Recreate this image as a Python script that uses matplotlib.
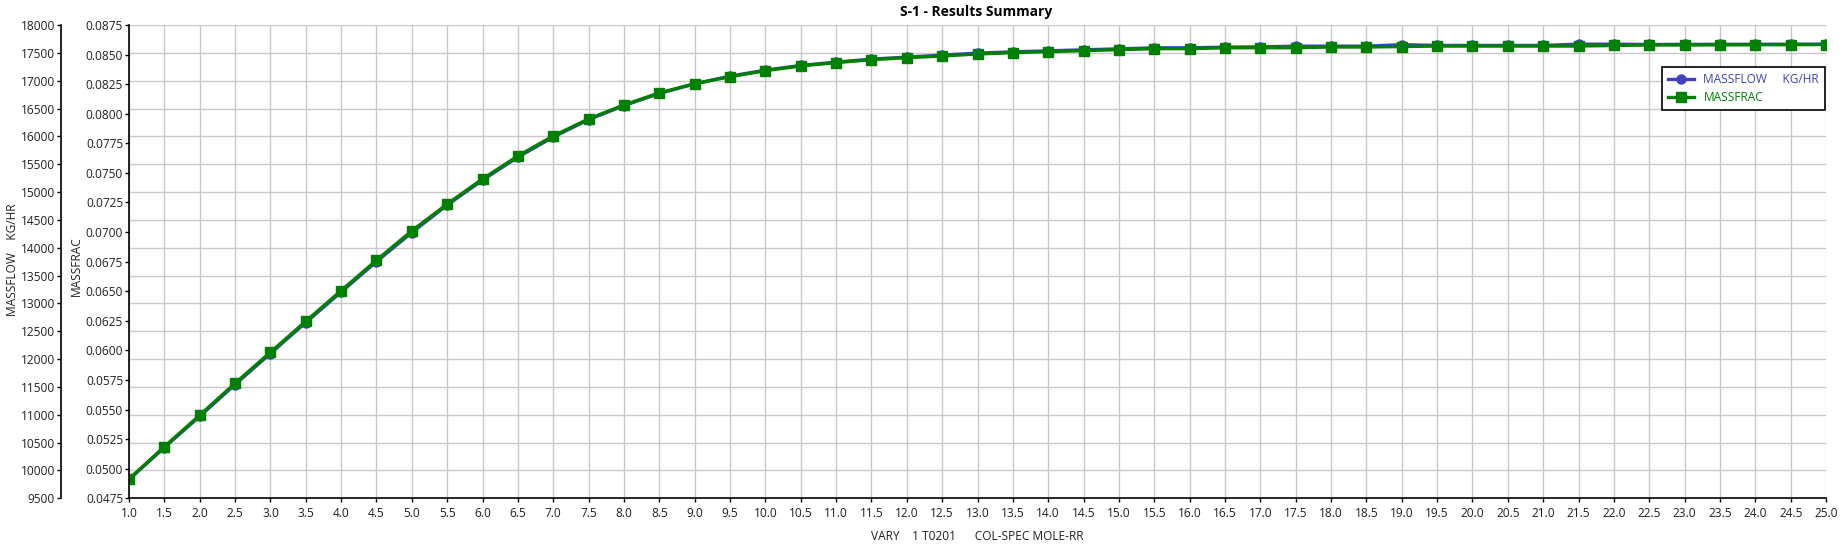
import matplotlib
matplotlib.use("Agg")
import matplotlib.pyplot as plt
import numpy as np

plt.rcParams['font.family'] = ['Open Sans', 'DejaVu Sans']

# data
vary = [1.0, 1.5, 2.0, 2.5, 3.0, 3.5, 4.0, 4.5, 5.0, 5.5, 6.0, 6.5, 7.0, 7.5,
        8.0, 8.5, 9.0, 9.5, 10.0, 10.5, 11.0, 11.5, 12.0, 12.5, 13.0, 13.5,
        14.0, 14.5, 15.0, 15.5, 16.0, 16.5, 17.0, 17.5, 18.0, 18.5, 19.0,
        19.5, 20.0, 20.5, 21.0, 21.5, 22.0, 22.5, 23.0, 23.5, 24.0, 24.5, 25.0]
massflow = [9838, 10412, 10972, 11543, 12100, 12656, 13204, 13751, 14272,
            14766, 15214, 15627, 15987, 16301, 16552, 16771, 16943, 17082,
            17189, 17274, 17333, 17387, 17423, 17459, 17495, 17518, 17536,
            17554, 17572, 17590, 17590, 17602, 17608, 17620, 17620, 17620,
            17647, 17633, 17633, 17633, 17633, 17656, 17656, 17650, 17652,
            17653, 17654, 17655, 17656]
massfrac = [0.04913, 0.05186, 0.05452, 0.05722, 0.05984, 0.06246, 0.06505,
            0.06762, 0.07010, 0.07237, 0.07449, 0.07643, 0.07812, 0.07956,
            0.08074, 0.08176, 0.08254, 0.08313, 0.08364, 0.08404, 0.08432,
            0.08457, 0.08474, 0.08488, 0.08505, 0.08516, 0.08525, 0.08533,
            0.08542, 0.08550, 0.08550, 0.08558, 0.08558, 0.08558, 0.08564,
            0.08564, 0.08568, 0.08572, 0.08572, 0.08572, 0.08572, 0.08572,
            0.08577, 0.08581, 0.08581, 0.08582, 0.08583, 0.08584, 0.08585]

flow_ticks = np.arange(9500, 18001, 500)
frac_ticks = np.arange(0.0475, 0.08751, 0.0025)
x_ticks = np.arange(1.0, 25.01, 0.5)

BLUE = '#4040c0'
GREEN = '#008000'
TXT = '#202020'
FS = 8.6

W, H = 1842, 546
PX = 0.72  # points per pixel at 100 dpi
fig = plt.figure(figsize=(W / 100, H / 100), dpi=100)
left, right, top, bottom = 129, 1826, 25, 498.3
rect = [left / W, 1 - bottom / H, (right - left) / W, (bottom - top) / H]

# flow axis at the back (holds the grid), frac axis in front
axf = fig.add_axes(rect)
ax = axf.twinx()
ax.set_zorder(axf.get_zorder() + 1)
ax.patch.set_visible(False)

axf.plot(vary, massflow, color=BLUE, lw=2.4, marker='o', ms=6.5,
         label='MASSFLOW     KG/HR')
ax.plot(vary, massfrac, color=GREEN, lw=2.4, marker='s', ms=6.5,
        label='MASSFRAC')

axf.set_xlim(1.0, 25.0)
axf.set_ylim(9500, 18000)
ax.set_ylim(0.0475, 0.0875)

axf.set_xticks(x_ticks)
axf.set_xticklabels([f"{v:.1f}" for v in x_ticks])
axf.set_yticks(flow_ticks)
axf.set_yticklabels([f"{int(v)}" for v in flow_ticks])
ax.set_yticks(frac_ticks)
ax.set_yticklabels([f"{v:.4f}" for v in frac_ticks])

axf.grid(True, color='#c8c8c8', lw=1.0)
axf.set_axisbelow(True)

# move both y axes to the left
ax.yaxis.tick_left()
for s in ['right', 'top', 'bottom']:
    ax.spines[s].set_visible(False)
for s in ['right', 'top']:
    axf.spines[s].set_visible(False)
axf.spines['left'].set_position(('outward', 68 * PX))

for a in (ax, axf):
    a.tick_params(axis='both', labelsize=FS, colors='black', labelcolor=TXT,
                  length=4 * PX, width=1, pad=2 * PX)
    for s in a.spines.values():
        s.set_linewidth(1.2)
axf.tick_params(axis='x', pad=5 * PX)

fig.text(976 / W, 1 - 12 / H, 'S-1 - Results Summary', ha='center',
         va='center', fontsize=10, fontweight='bold', color='black')
fig.text(977 / W, 1 - 536 / H, 'VARY    1 T0201      COL-SPEC MOLE-RR',
         ha='center', va='center', fontsize=FS, color=TXT)
fig.text(13 / W, 1 - 260 / H, 'MASSFLOW    KG/HR', ha='center', va='center',
         rotation=90, fontsize=FS, color=TXT)
fig.text(76 / W, 1 - 266 / H, 'MASSFRAC', ha='center', va='center',
         rotation=90, fontsize=FS, color=TXT)

h1, l1 = axf.get_legend_handles_labels()
h2, l2 = ax.get_legend_handles_labels()
leg = ax.legend(h1 + h2, l1 + l2, loc='upper right',
                bbox_to_anchor=((1831 - left) / (right - left),
                                1 - (61 - top) / (bottom - top)),
                fontsize=FS, frameon=True, fancybox=False, framealpha=1,
                borderpad=0.5, handlelength=2.2, labelspacing=0.4)
leg.get_frame().set_edgecolor('black')
leg.get_frame().set_linewidth(1.2)
for t, c in zip(leg.get_texts(), [BLUE, GREEN]):
    t.set_color(c)

fig.savefig('out.png', dpi=100)
